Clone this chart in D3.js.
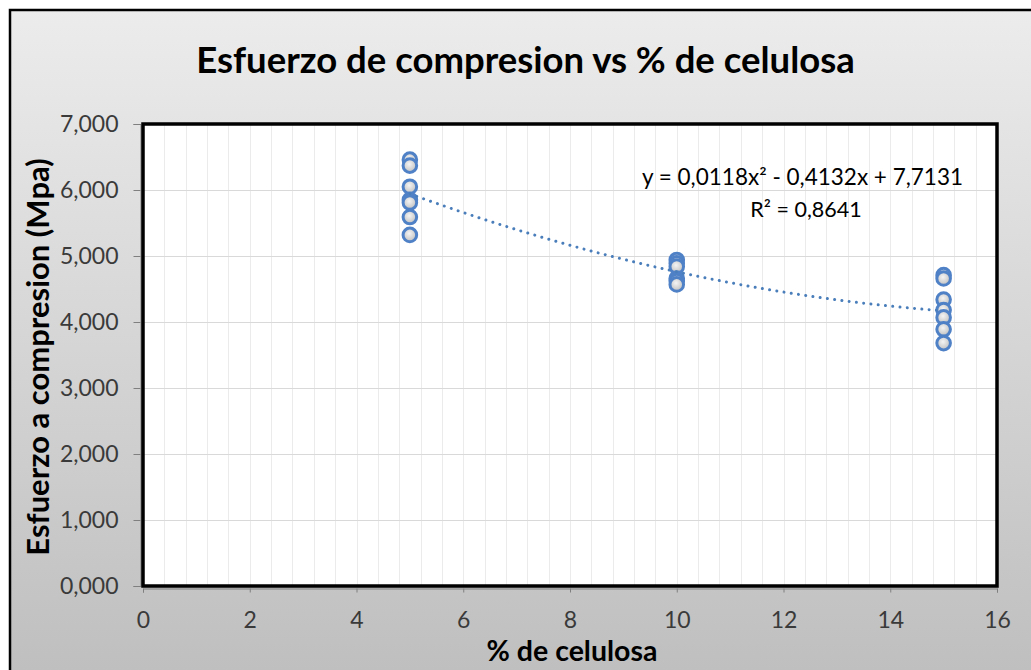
<!DOCTYPE html>
<html>
<head>
<meta charset="utf-8">
<script src="https://cdn.jsdelivr.net/npm/d3@7"></script>
<style>
  html, body { margin: 0; padding: 0; background: #ffffff; }
  svg { display: block; }
  text { font-family: Lato, "Open Sans", sans-serif; }
</style>
</head>
<body>
<svg id="chart" width="1031" height="670"></svg>
<script>
// Esfuerzo a compresión medido para cada porcentaje de celulosa
const porcentajes = [5, 10, 15];
const esfuerzo5  = [6.46, 6.37, 6.05, 5.85, 5.81, 5.59, 5.32];
const esfuerzo10 = [4.94, 4.89, 4.84, 4.66, 4.62, 4.57];
const esfuerzo15 = [4.71, 4.66, 4.34, 4.18, 4.07, 3.89, 3.68];

// Línea de tendencia polinómica de orden 2: y = a·x² + b·x + c
const coeficientes = [0.0118, -0.4132, 7.7131];
const r2 = 0.8641;
const tendenciaDesde = 5, tendenciaHasta = 15;

const xTicks = [0, 2, 4, 6, 8, 10, 12, 14, 16];
const yTicks = [0, 1, 2, 3, 4, 5, 6, 7];

const titulo = "Esfuerzo de compresion vs % de celulosa";
const tituloX = "% de celulosa";
const tituloY = "Esfuerzo a compresion (Mpa)";

// Formato con coma decimal
const es = d3.formatLocale({ decimal: ",", thousands: ".", grouping: [3], currency: ["", "€"] });
const fmtY = es.format(".3f");
const fmtCoef = es.format(".4f");

const svg = d3.select("#chart");
const W = 1031, H = 670;

// Fondo del área de gráfico con degradado gris
const defs = svg.append("defs");
const bg = defs.append("linearGradient").attr("id", "fondo")
  .attr("x1", 0).attr("y1", 0).attr("x2", 0).attr("y2", 1);
bg.append("stop").attr("offset", "0%").attr("stop-color", "#ececec");
bg.append("stop").attr("offset", "100%").attr("stop-color", "#bdbdbd");

const mk = defs.append("radialGradient").attr("id", "relleno")
  .attr("cx", "45%").attr("cy", "40%").attr("r", "60%");
mk.append("stop").attr("offset", "0%").attr("stop-color", "#f4f4f4");
mk.append("stop").attr("offset", "100%").attr("stop-color", "#bfbfbf");

svg.append("rect")
  .attr("x", 10).attr("y", 10).attr("width", W + 20).attr("height", H + 20)
  .attr("fill", "url(#fondo)")
  .attr("stroke", "#000").attr("stroke-width", 2.5);

// Escalas
const x = d3.scaleLinear().domain([0, 16]).range([143, 997]);
const y = d3.scaleLinear().domain([0, 7]).range([586, 124]);

const [x0, x1] = x.range();
const [y0, y1] = y.range();

// Área de trazado
svg.append("rect")
  .attr("x", x0).attr("y", y1).attr("width", x1 - x0).attr("height", y0 - y1)
  .attr("fill", "#ffffff");

// Cuadrícula vertical secundaria (cada 0,4)
const xMinor = d3.range(1, 40).map(i => i * 0.4);
svg.append("g").selectAll("line").data(xMinor).join("line")
  .attr("x1", d => Math.round(x(d)) + 0.5).attr("x2", d => Math.round(x(d)) + 0.5)
  .attr("y1", y1).attr("y2", y0)
  .attr("stroke", "#ebebeb").attr("stroke-width", 1);

// Cuadrícula horizontal principal
svg.append("g").selectAll("line").data(yTicks.filter(d => d > 0 && d < 7)).join("line")
  .attr("x1", x0).attr("x2", x1)
  .attr("y1", d => Math.round(y(d)) + 0.5).attr("y2", d => Math.round(y(d)) + 0.5)
  .attr("stroke", "#d9d9d9").attr("stroke-width", 1);

// Ejes
const yAxis = d3.axisLeft(y).tickValues(yTicks).tickFormat(fmtY).tickSize(7).tickPadding(15);
const gy = svg.append("g").attr("transform", `translate(${x0 - 2.5},0)`).call(yAxis);
gy.select(".domain").attr("stroke", "#7f7f7f");
gy.selectAll(".tick line").attr("stroke", "#7f7f7f");
gy.selectAll(".tick text")
  .attr("fill", "#3a3a3a").attr("font-size", 23).attr("font-family", "Lato, sans-serif");

const xAxis = d3.axisBottom(x).tickValues(xTicks).tickFormat(d3.format("d")).tickSize(4).tickPadding(19);
const gx = svg.append("g").attr("transform", `translate(0,${y0 + 2.5})`).call(xAxis);
gx.select(".domain").attr("stroke", "#7f7f7f");
gx.selectAll(".tick line").attr("stroke", "#7f7f7f");
gx.selectAll(".tick text")
  .attr("fill", "#3a3a3a").attr("font-size", 23).attr("font-family", "Lato, sans-serif");

// Borde del área de trazado
svg.append("rect")
  .attr("x", x0).attr("y", y1).attr("width", x1 - x0).attr("height", y0 - y1)
  .attr("fill", "none").attr("stroke", "#000").attr("stroke-width", 3.5);

// Puntos
const series = [esfuerzo5, esfuerzo10, esfuerzo15];
const puntos = porcentajes.flatMap((p, i) => series[i].map(v => ({ x: p, y: v })));
svg.append("g").selectAll("circle").data(puntos).join("circle")
  .attr("cx", d => x(d.x)).attr("cy", d => y(d.y)).attr("r", 6.8)
  .attr("fill", "url(#relleno)")
  .attr("stroke", "#4f81c7").attr("stroke-width", 3);

// Línea de tendencia
const [a, b, c] = coeficientes;
const f = t => a * t * t + b * t + c;
const xs = d3.range(tendenciaDesde, tendenciaHasta + 0.0001, 0.05);
svg.append("path")
  .datum(xs)
  .attr("d", d3.line().x(t => x(t)).y(t => y(f(t))))
  .attr("fill", "none")
  .attr("stroke", "#4a7ebb").attr("stroke-width", 3)
  .attr("stroke-linecap", "round")
  .attr("stroke-dasharray", "0.01 7.3");

// Ecuación y R²
const signo = v => (v < 0 ? " - " : " + ");
svg.append("text")
  .attr("x", 802.5).attr("y", 185).attr("text-anchor", "middle")
  .attr("font-size", 22.5).attr("fill", "#000")
  .text(`y = ${fmtCoef(a)}x²${signo(b)}${fmtCoef(Math.abs(b))}x${signo(c)}${fmtCoef(Math.abs(c))}`);
svg.append("text")
  .attr("x", 806).attr("y", 216.5).attr("text-anchor", "middle")
  .attr("font-size", 21.5).attr("fill", "#000")
  .text(`R² = ${fmtCoef(r2)}`);

// Títulos
svg.append("text")
  .attr("x", 525.5).attr("y", 73).attr("text-anchor", "middle")
  .attr("font-size", 36.5).attr("font-weight", "bold").attr("fill", "#000")
  .text(titulo);

svg.append("text")
  .attr("x", 572).attr("y", 661).attr("text-anchor", "middle")
  .attr("font-size", 28.5).attr("font-weight", "bold").attr("fill", "#000")
  .text(tituloX);

svg.append("text")
  .attr("transform", "translate(49,357) rotate(-90)")
  .attr("text-anchor", "middle")
  .attr("font-size", 31).attr("font-weight", "bold").attr("fill", "#000")
  .text(tituloY);
</script>
</body>
</html>
